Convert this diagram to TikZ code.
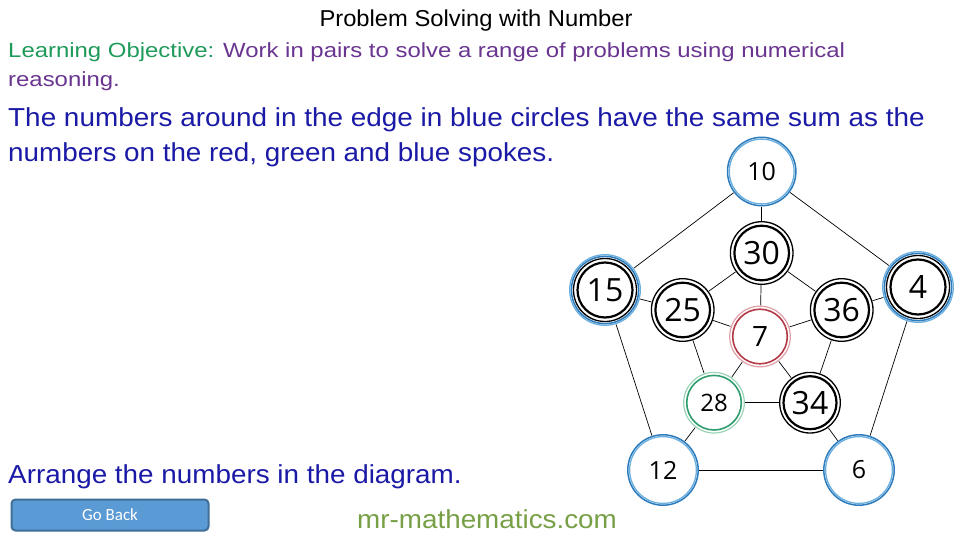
\documentclass[tikz,border=0pt]{standalone}
\usepackage{graphicx}
\usepackage{fontspec}
\setmainfont{Liberation Sans}
\newfontfamily\numfont{Open Sans}
\newfontfamily\btnfont{Carlito}
\definecolor{logreen}{HTML}{1F9A5A}
\definecolor{lopurple}{HTML}{6A3590}
\definecolor{textblue}{HTML}{1A1AA6}
\definecolor{sitegreen}{HTML}{77A046}
\definecolor{btnfill}{HTML}{5B9BD5}
\definecolor{btnedge}{HTML}{3F6E98}
\definecolor{ringblueA}{HTML}{2D7DBE}
\definecolor{ringblueB}{HTML}{6AAEDD}
\definecolor{ringredA}{HTML}{B53A48}
\definecolor{ringredB}{HTML}{E0A0A8}
\definecolor{ringgreenA}{HTML}{2E9E6E}
\definecolor{ringgreenB}{HTML}{9CD3B8}
\tikzset{
  numnode/.style={circle, inner sep=0pt, minimum size=#1},
  bigdigits/.style={font=\numfont\fontsize{32}{32}\selectfont},
  smalldigits/.style={font=\numfont\fontsize{25}{25}\selectfont},
  spoke/.style={draw=black, line width=0.7pt},
  blueA/.style={draw=ringblueA, line width=1.5pt},
  blueB/.style={draw=ringblueB, line width=1.3pt},
  blackA/.style={draw=black, line width=1.3pt},
  blackB/.style={draw=black, line width=2.2pt},
  redA/.style={draw=ringredB, line width=1.2pt},
  redB/.style={draw=ringredA, line width=1.6pt},
  greenA/.style={draw=ringgreenB, line width=1.2pt},
  greenB/.style={draw=ringgreenA, line width=1.6pt},
  txt/.style={inner sep=0pt, anchor=base west},
}
\begin{document}
\begin{tikzpicture}[x=1pt, y=-1pt]
\useasboundingbox (0,0) rectangle (960,540);
\fill[white] (0,0) rectangle (960,540);

% texts
\node[inner sep=0pt, anchor=base, font=\fontsize{23}{23}\selectfont] (title) at (476,27) {\scalebox{1.033}[1]{Problem Solving with Number}};
\node[txt, font=\fontsize{20.5}{20.5}\selectfont] (lo1) at (8,58) {\scalebox{1.167}[1]{\textcolor{logreen}{Learning Objective:} \textcolor{lopurple}{Work in pairs to solve a range of problems using numerical}}};
\node[txt, font=\fontsize{20.5}{20.5}\selectfont, text=lopurple] (lo2) at (8,87) {\scalebox{1.167}[1]{reasoning.}};
\node[txt, font=\fontsize{26}{26}\selectfont, text=textblue] (q1) at (8,127) {\scalebox{1.073}[1]{The numbers around in the edge in blue circles have the same sum as the}};
\node[txt, font=\fontsize{26}{26}\selectfont, text=textblue] (q2) at (8,161) {\scalebox{1.07}[1]{numbers on the red, green and blue spokes.}};
\node[txt, font=\fontsize{26}{26}\selectfont, text=textblue] (q3) at (8,483) {\scalebox{1.071}[1]{Arrange the numbers in the diagram.}};
\node[txt, font=\fontsize{26}{26}\selectfont, text=sitegreen] (site) at (357,528) {\scalebox{1.07}[1]{mr-mathematics.com}};

% button
\node[draw=btnedge, line width=2pt, fill=btnfill, rounded corners=4pt, minimum width=197pt, minimum height=31pt, inner sep=0pt,
      font=\btnfont\fontsize{17}{17}\selectfont, text=white] (goback) at (110,515) {Go Back};

% nodes
\node[numnode=70pt, smalldigits] (n10) at (761.7,171.5) {10};
\node[numnode=72pt, bigdigits] (n15) at (605,290) {15};
\node[numnode=72pt, bigdigits] (n4) at (918,287) {4};
\node[numnode=72pt, smalldigits] (n12) at (663,470) {12};
\node[numnode=72pt, smalldigits] (n6) at (859,470) {6};
\node[numnode=64pt, bigdigits] (n30) at (761.7,253) {30};
\node[numnode=64pt, bigdigits] (n25) at (682.7,310) {25};
\node[numnode=64pt, bigdigits] (n36) at (841.7,310) {36};
\node[numnode=62pt, font=\numfont\fontsize{28}{28}\selectfont] (n7) at (760,336.5) {7};
\node[numnode=62pt, font=\numfont\fontsize{24}{24}\selectfont] (n28) at (714,402.7) {28};
\node[numnode=62pt, bigdigits] (n34) at (810,402.7) {34};

% rings: blue
\foreach \n in {n10} {
  \draw[blueB] (\n.center) circle (32.4);
  \draw[blueA] (\n.center) circle (34.2);
}
\foreach \n in {n12,n6} {
  \draw[blueB] (\n.center) circle (33.4);
  \draw[blueA] (\n.center) circle (35.2);
}
\foreach \n in {n15,n4} {
  \draw[blueB] (\n.center) circle (35.3);
  \draw[blueA] (\n.center) circle (33.6);
  \draw[blackA] (\n.center) circle (31.5);
  \draw[blackB] (\n.center) circle (27.5);
}
\foreach \n in {n30,n25,n36} {
  \draw[blackA] (\n.center) circle (31.3);
  \draw[blackB] (\n.center) circle (27.3);
}
\draw[blackA] (n34.center) circle (30.3);
\draw[blackB] (n34.center) circle (26.5);
\draw[redA] (n7.center) circle (30.3);
\draw[redB] (n7.center) circle (27.3);
\draw[greenA] (n28.center) circle (30.3);
\draw[greenB] (n28.center) circle (27.3);

% spokes
\draw[spoke] (n10) -- (n30);
\draw[spoke] (n10) -- (n15);
\draw[spoke] (n10) -- (n4);
\draw[spoke] (n15) -- (n25);
\draw[spoke] (n15) -- (n12);
\draw[spoke] (n4) -- (n36);
\draw[spoke] (n4) -- (n6);
\draw[spoke] (n12) -- (n6);
\draw[spoke] (n12) -- (n28);
\draw[spoke] (n6) -- (n34);
\draw[spoke] (n30) -- (n25);
\draw[spoke] (n30) -- (n36);
\draw[spoke] (n30) -- (n7);
\draw[spoke] (n25) -- (n7);
\draw[spoke] (n36) -- (n7);
\draw[spoke] (n25) -- (n28);
\draw[spoke] (n36) -- (n34);
\draw[spoke] (n7) -- (n28);
\draw[spoke] (n7) -- (n34);
\draw[spoke] (n28) -- (n34);
\end{tikzpicture}
\end{document}
